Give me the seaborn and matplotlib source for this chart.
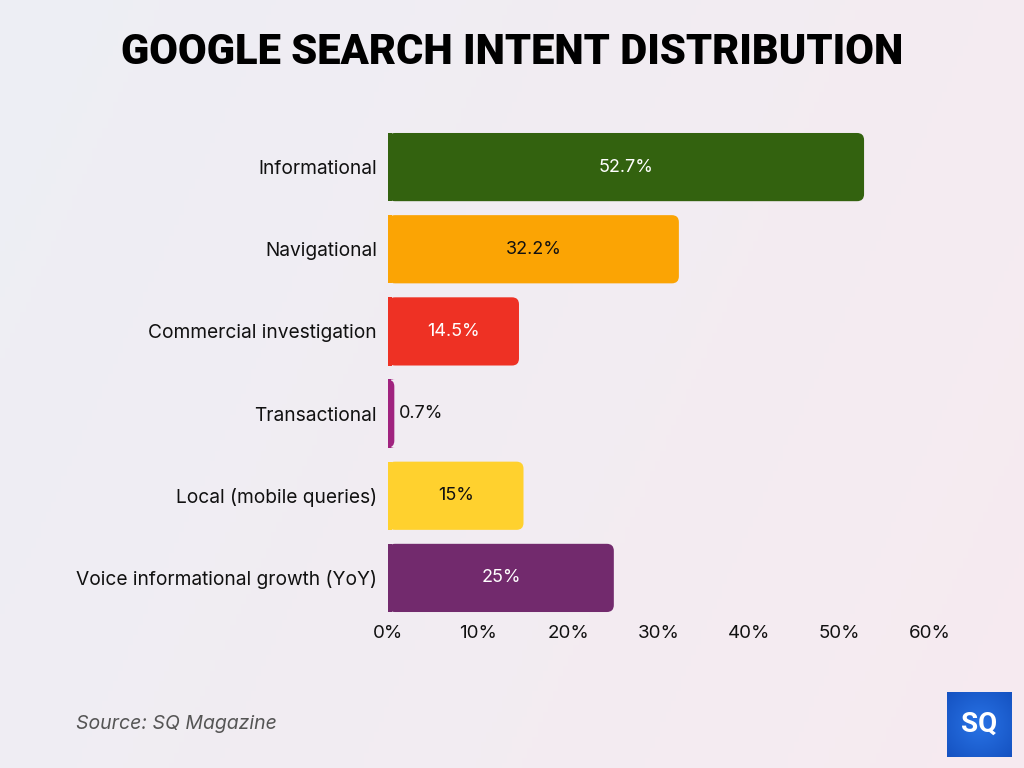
import numpy as np
import pandas as pd
import seaborn as sns
import matplotlib.pyplot as plt
from matplotlib.patches import FancyBboxPatch, Rectangle

categories = ["Informational", "Navigational", "Commercial investigation", "Transactional",
              "Local (mobile queries)", "Voice informational growth (YoY)"]
values = [52.7, 32.2, 14.5, 0.7, 15, 25]
value_labels = ["52.7%", "32.2%", "14.5%", "0.7%", "15%", "25%"]
colors = ["#33620F", "#FBA404", "#EE3124", "#A0237F", "#FFD12E", "#722A6D"]
label_colors = ["white", "#111111", "white", "#111111", "#111111", "white"]
xticks = [0, 10, 20, 30, 40, 50, 60]
title = "GOOGLE SEARCH INTENT DISTRIBUTION"
source = "Source: SQ Magazine"

sns.set_theme(style="white")
plt.rcParams['font.family'] = ['Inter', 'DejaVu Sans']

fig = plt.figure(figsize=(10.24, 7.68), dpi=100)

# background gradient
bg = fig.add_axes([0, 0, 1, 1], zorder=-10)
W, H = 200, 150
xx, yy = np.meshgrid(np.linspace(0, 1, W), np.linspace(0, 1, H))
c1 = np.array([0.925, 0.937, 0.960])  # bluish left
c2 = np.array([0.972, 0.918, 0.941])  # pinkish right
t = np.clip(0.6 * xx + 0.4 * (1 - yy) * 0.5 + 0.1, 0, 1)[..., None]
img = c1 * (1 - t) + c2 * t
bg.imshow(img, aspect='auto', extent=[0, 1, 0, 1], origin='lower')
bg.axis('off')

ax = fig.add_axes([388 / 1024, 1 - 619 / 768, (930 - 388) / 1024, (619 - 126) / 768])
ax.set_facecolor('none')
df = pd.DataFrame({"cat": categories, "val": values})
sns.barplot(data=df, x="val", y="cat", hue="cat", palette=colors, legend=False,
            orient="h", width=0.83, ax=ax, saturation=1)

ax.set_xlim(0, 60)
ax.set_ylim(5.5, -0.5)

# rounded right ends
px_x = (930 - 388) / 60.0
px_y = (619 - 126) / 6.0
r_px = 7
rx = r_px / px_x
asp = (r_px / px_y) / rx
for p in list(ax.patches):
    x0, y0 = p.get_x(), p.get_y()
    w, h = p.get_width(), p.get_height()
    fc = p.get_facecolor()
    p.remove()
    fb = FancyBboxPatch((x0, y0), w, h, boxstyle=f"round,pad=0,rounding_size={rx}",
                        mutation_aspect=asp, facecolor=fc, edgecolor='none', zorder=2)
    ax.add_patch(fb)
    ax.add_patch(Rectangle((x0, y0), min(w, rx) * 0.5, h, facecolor=fc, edgecolor='none', zorder=2))

for i, (v, lab, lc) in enumerate(zip(values, value_labels, label_colors)):
    if v < 5:
        ax.text(v + 0.5, i, lab, ha='left', va='center', fontsize=13, color=lc, zorder=3)
    else:
        ax.text(v / 2, i, lab, ha='center', va='center', fontsize=13, color=lc, zorder=3)

ax.set_xticks(xticks)
ax.set_xticklabels([f"{x}%" for x in xticks], fontsize=13.5, color="#111111")
ax.tick_params(axis='y', labelsize=13.8, labelcolor="#111111", length=0, pad=8)
ax.tick_params(axis='x', length=0, pad=4)
ax.set_xlabel("")
ax.set_ylabel("")
for s in ax.spines.values():
    s.set_visible(False)

fig.text(0.5, 1 - 52 / 768, title, ha='center', va='center', fontsize=30,
         fontweight='black', family=['Roboto', 'DejaVu Sans'], color='black')
fig.text(76 / 1024, 1 - 724 / 768, source, ha='left', va='center', fontsize=14,
         style='italic', color='#555555')

# logo
lg = fig.add_axes([947 / 1024, 1 - 757 / 768, 65 / 1024, 65 / 768])
gx, gy = np.meshgrid(np.linspace(0, 1, 50), np.linspace(0, 1, 50))
d = np.sqrt((gx - 0.5) ** 2 + (gy - 0.5) ** 2)[..., None]
cin = np.array([0.16, 0.45, 0.90])
cout = np.array([0.05, 0.27, 0.70])
lg.imshow(cin * (1 - d) + cout * d, extent=[0, 1, 0, 1], aspect='auto')
lg.text(0.5, 0.5, "SQ", ha='center', va='center', color='white', fontsize=20,
        fontweight='bold', family=['Roboto', 'DejaVu Sans'])
lg.axis('off')

fig.savefig("out.png", dpi=100)
